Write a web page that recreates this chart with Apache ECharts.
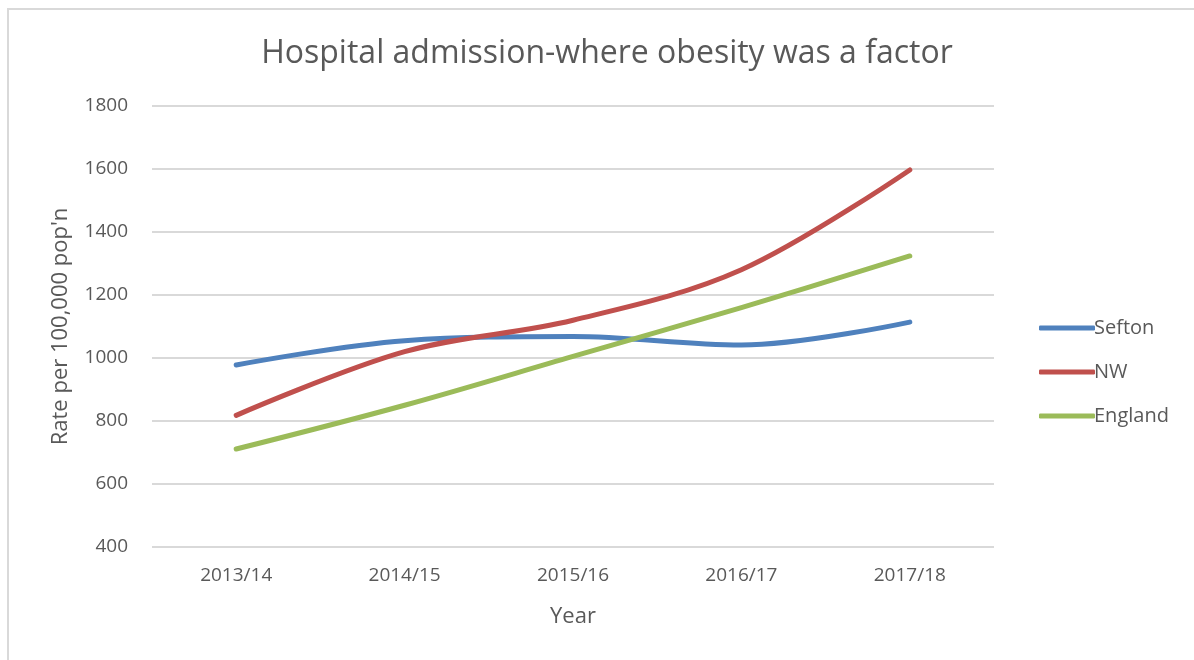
<!DOCTYPE html>
<html>
<head>
<meta charset="utf-8">
<script src="https://cdn.jsdelivr.net/npm/echarts@6/dist/echarts.min.js"></script>
<style>
  html, body { margin: 0; padding: 0; background: #fff; }
  #frame {
    position: absolute; left: 7px; top: 8px; width: 1200px; height: 670px;
    border-left: 2px solid #d9d9d9; border-top: 2px solid #d9d9d9;
  }
  #chart { position: absolute; left: 0; top: 0; width: 1194px; height: 660px; }
</style>
</head>
<body>
<div id="frame"></div>
<div id="chart"></div>
<script>
// years on the x axis
var years = ['2013/14', '2014/15', '2015/16', '2016/17', '2017/18']
// rate per 100,000 population
var sefton = [978, 1055, 1068, 1041, 1114]
var nw = [818, 1020, 1120, 1280, 1597]
var england = [711, 850, 1005, 1160, 1324]

var textColor = '#595959'
var font = 'Open Sans'

var chart = echarts.init(document.getElementById('chart'))

function line(name, data, color) {
  return {
    name: name,
    type: 'line',
    data: data,
    smooth: 0.35,
    symbol: 'none',
    itemStyle: { color: color },
    lineStyle: { color: color, width: 5, cap: 'round', join: 'round' }
  }
}

chart.setOption({
  backgroundColor: 'transparent',
  animation: false,
  title: {
    text: 'Hospital admission-where obesity was a factor',
    left: 602,
    top: 33,
    textAlign: 'center',
    textStyle: {
      color: textColor,
      fontFamily: font,
      fontWeight: 'normal',
      fontSize: 32
    }
  },
  legend: {
    orient: 'vertical',
    left: 1034,
    top: 313,
    icon: 'roundRect',
    itemWidth: 56,
    itemHeight: 5,
    itemGap: 24,
    textStyle: { color: textColor, fontFamily: font, fontSize: 20, padding: [0, 0, 0, -6] },
    data: ['Sefton', 'NW', 'England']
  },
  grid: {
    left: 152,
    right: 200,
    top: 106,
    bottom: 113
  },
  xAxis: {
    type: 'category',
    data: years,
    boundaryGap: true,
    name: 'Year',
    nameLocation: 'middle',
    nameGap: 59,
    nameTextStyle: { color: textColor, fontFamily: font, fontSize: 22 },
    axisLine: { show: false },
    axisTick: { show: false },
    axisLabel: { color: textColor, fontFamily: font, fontSize: 19, margin: 19 }
  },
  yAxis: {
    type: 'value',
    min: 400,
    max: 1800,
    interval: 200,
    name: "Rate per 100,000 pop'n",
    nameLocation: 'middle',
    nameGap: 80,
    nameTextStyle: { color: textColor, fontFamily: font, fontSize: 22 },
    axisLine: { show: false },
    axisTick: { show: false },
    axisLabel: {
      color: textColor, fontFamily: font, fontSize: 19, margin: 24,
      formatter: function (v) { return String(v) }
    },
    splitLine: { lineStyle: { color: '#d9d9d9', width: 2 } }
  },
  series: [
    line('Sefton', sefton, '#4f81bd'),
    line('NW', nw, '#c0504d'),
    line('England', england, '#9bbb59')
  ]
})
</script>
</body>
</html>
